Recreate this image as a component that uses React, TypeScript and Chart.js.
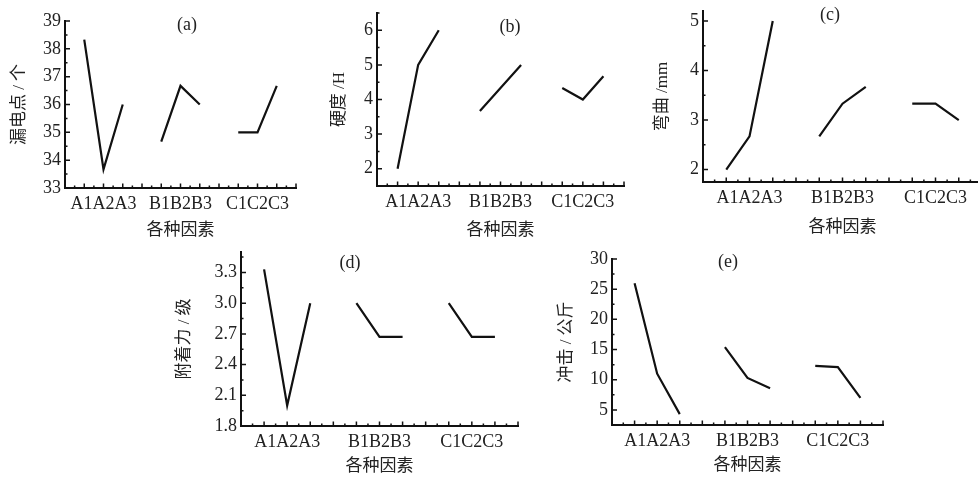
import React, { useEffect, useRef } from 'react';
import { Chart, registerables } from 'chart.js';

Chart.register(...registerables);

// ---------- data ----------
const groupLabels = ['A1A2A3', 'B1B2B3', 'C1C2C3'];
const groupCenters = [2, 6, 10];
const levelsA = [1, 2, 3];
const levelsB = [5, 6, 7];
const levelsC = [9, 10, 11];
const xTitle = '各种因素';

// (a) 漏电点 / 个
const leakA = [38.33, 33.67, 36.0];
const leakB = [34.67, 36.67, 36.0];
const leakC = [35.0, 35.0, 36.67];
const leakTicks = [33, 34, 35, 36, 37, 38, 39];

// (b) 硬度 /H
const hardA = [2.0, 5.0, 6.0];
const hardB = [3.67, 4.33, 5.0];
const hardC = [4.33, 4.0, 4.67];
const hardTicks = [2, 3, 4, 5, 6];

// (c) 弯曲 /mm
const bendA = [2.0, 2.67, 5.0];
const bendB = [2.67, 3.33, 3.67];
const bendC = [3.33, 3.33, 3.0];
const bendTicks = [2, 3, 4, 5];

// (d) 附着力 / 级
const adhA = [3.33, 2.0, 3.0];
const adhB = [3.0, 2.67, 2.67];
const adhC = [3.0, 2.67, 2.67];
const adhTicks = [1.8, 2.1, 2.4, 2.7, 3.0, 3.3];

// (e) 冲击 / 公斤
const impA = [26.0, 11.0, 4.3];
const impB = [15.4, 10.3, 8.6];
const impC = [12.3, 12.1, 7.0];
const impTicks = [5, 10, 15, 20, 25, 30];

const FONT = "'Liberation Serif', 'Noto Sans CJK SC', serif";
const INK = '#111';
const TXT = '#222';

type PanelDef = {
  tag: string;
  yTitle: string;
  series: number[][];
  yMin: number;
  yMax: number;
  yTicks: number[];
  minorStep: number;
  decimals: number;
  box: { x: number; y: number; w: number; h: number };
  area: { l: number; r: number; t: number; b: number };
  yTitleX: number;
  xTitleY: number;
  tagPos: { x: number; y: number };
};

const panels: PanelDef[] = [
  {
    tag: '(a)', yTitle: '漏电点 / 个', series: [leakA, leakB, leakC],
    yMin: 33, yMax: 39, yTicks: leakTicks, minorStep: 0.5, decimals: 0,
    box: { x: 0, y: 0, w: 310, h: 244 }, area: { l: 65, r: 296, t: 21, b: 188 },
    yTitleX: 20, xTitleY: 231, tagPos: { x: 187, y: 25 },
  },
  {
    tag: '(b)', yTitle: '硬度 /H', series: [hardA, hardB, hardC],
    yMin: 1.5, yMax: 6.5, yTicks: hardTicks, minorStep: 0.5, decimals: 0,
    box: { x: 326, y: 0, w: 310, h: 244 }, area: { l: 377, r: 624, t: 13, b: 186 },
    yTitleX: 340, xTitleY: 231, tagPos: { x: 510, y: 27 },
  },
  {
    tag: '(c)', yTitle: '弯曲 /mm', series: [bendA, bendB, bendC],
    yMin: 1.75, yMax: 5.2, yTicks: bendTicks, minorStep: 0.5, decimals: 0,
    box: { x: 650, y: 0, w: 340, h: 242 }, area: { l: 703, r: 982, t: 11, b: 182 },
    yTitleX: 663, xTitleY: 228, tagPos: { x: 830, y: 15 },
  },
  {
    tag: '(d)', yTitle: '附着力 / 级', series: [adhA, adhB, adhC],
    yMin: 1.8, yMax: 3.5, yTicks: adhTicks, minorStep: 0.15, decimals: 1,
    box: { x: 172, y: 240, w: 358, h: 240 }, area: { l: 241, r: 518, t: 252, b: 426 },
    yTitleX: 185, xTitleY: 467, tagPos: { x: 350, y: 263 },
  },
  {
    tag: '(e)', yTitle: '冲击 / 公斤', series: [impA, impB, impC],
    yMin: 2.5, yMax: 30, yTicks: impTicks, minorStep: 2.5, decimals: 0,
    box: { x: 555, y: 243, w: 340, h: 237 }, area: { l: 612, r: 883, t: 259, b: 425 },
    yTitleX: 567, xTitleY: 466, tagPos: { x: 728, y: 262 },
  },
];

// inward tick marks + panel tag
const panelDecor = {
  id: 'panelDecor',
  afterDraw(chart: any, _args: any, opts: any) {
    const { ctx, chartArea: a } = chart;
    const xs = chart.scales.x;
    const ys = chart.scales.y;
    ctx.save();
    ctx.strokeStyle = INK;
    ctx.lineWidth = 1.5;
    ctx.beginPath();
    for (let k = 1; k <= 24; k++) {
      const px = xs.getPixelForValue(k / 2);
      const len = k % 2 === 0 ? 4.5 : 2.5;
      ctx.moveTo(px, a.bottom);
      ctx.lineTo(px, a.bottom - len);
    }
    const step = opts.minorStep;
    const kmin = Math.ceil(opts.yMin / step - 1e-6);
    const kmax = Math.floor(opts.yMax / step + 1e-6);
    for (let k = kmin; k <= kmax; k++) {
      const v = k * step;
      const major = opts.majors.some((m: number) => Math.abs(m - v) < 1e-6);
      const py = ys.getPixelForValue(v);
      const len = major ? 5 : 2.5;
      ctx.moveTo(a.left, py);
      ctx.lineTo(a.left + len, py);
    }
    ctx.stroke();
    ctx.fillStyle = TXT;
    ctx.font = `18px ${FONT}`;
    ctx.textAlign = 'center';
    ctx.textBaseline = 'middle';
    ctx.fillText(opts.tag, opts.tagX, opts.tagY);
    ctx.restore();
  },
};

function Panel({ p }: { p: PanelDef }) {
  const ref = useRef<HTMLCanvasElement | null>(null);
  useEffect(() => {
    const cx = p.box.x;
    const cy = p.box.y;
    const yW = p.area.l - cx;
    const xH = cy + p.box.h - p.area.b;
    const chart = new Chart(ref.current as HTMLCanvasElement, {
      type: 'line',
      data: {
        datasets: [levelsA, levelsB, levelsC].map((lv, gi) => ({
          data: lv.map((xv, i) => ({ x: xv, y: p.series[gi][i] })),
          borderColor: INK,
          borderWidth: 2.2,
          pointRadius: 0,
          tension: 0,
          fill: false,
        })),
      },
      options: {
        responsive: false,
        animation: false,
        devicePixelRatio: 1,
        layout: {
          padding: { left: 0, top: p.area.t - cy, right: cx + p.box.w - p.area.r, bottom: 0 },
        },
        plugins: {
          legend: { display: false },
          tooltip: { enabled: false },
          panelDecor: {
            minorStep: p.minorStep,
            yMin: p.yMin,
            yMax: p.yMax,
            majors: p.yTicks,
            tag: p.tag,
            tagX: p.tagPos.x - cx,
            tagY: p.tagPos.y - cy,
          },
        } as any,
        scales: {
          x: {
            type: 'linear',
            min: 0,
            max: 12,
            grid: { display: false, drawTicks: false },
            border: { display: true, color: INK, width: 2 },
            afterBuildTicks: (s: any) => {
              s.ticks = groupCenters.map((v) => ({ value: v }));
            },
            afterFit: (s: any) => {
              s.height = xH;
              s.paddingLeft = 0;
              s.paddingRight = 0;
            },
            ticks: {
              autoSkip: false,
              maxRotation: 0,
              padding: 5,
              color: TXT,
              font: { family: FONT, size: 18 },
              callback: (v: any) => {
                const i = groupCenters.indexOf(Number(v));
                return i >= 0 ? groupLabels[i] : '';
              },
            },
            title: {
              display: true,
              text: xTitle,
              color: TXT,
              font: { family: FONT, size: 17 },
              padding: { top: 0, bottom: Math.max(0, cy + p.box.h - p.xTitleY - 10.2) },
            },
          },
          y: {
            type: 'linear',
            min: p.yMin,
            max: p.yMax,
            grid: { display: false, drawTicks: false },
            border: { display: true, color: INK, width: 2 },
            afterBuildTicks: (s: any) => {
              s.ticks = p.yTicks.map((v) => ({ value: v }));
            },
            afterFit: (s: any) => {
              s.width = yW;
              s.paddingTop = 0;
              s.paddingBottom = 0;
            },
            ticks: {
              padding: 4,
              color: TXT,
              font: { family: FONT, size: 18 },
              callback: (v: any) => Number(v).toFixed(p.decimals),
            },
            title: {
              display: true,
              text: p.yTitle,
              color: TXT,
              font: { family: FONT, size: 17 },
              padding: { top: Math.max(0, p.yTitleX - cx - 10.2), bottom: 0 },
            },
          },
        },
      } as any,
      plugins: [panelDecor as any],
    });
    return () => chart.destroy();
  }, []);
  return (
    <canvas
      ref={ref}
      width={p.box.w}
      height={p.box.h}
      style={{ position: 'absolute', left: p.box.x, top: p.box.y, width: p.box.w, height: p.box.h }}
    />
  );
}

export default function App() {
  return (
    <div
      style={{
        position: 'absolute',
        left: 0,
        top: 0,
        width: 978,
        height: 481,
        overflow: 'hidden',
        background: '#fff',
      }}
    >
      {panels.map((p) => (
        <Panel key={p.tag} p={p} />
      ))}
    </div>
  );
}
